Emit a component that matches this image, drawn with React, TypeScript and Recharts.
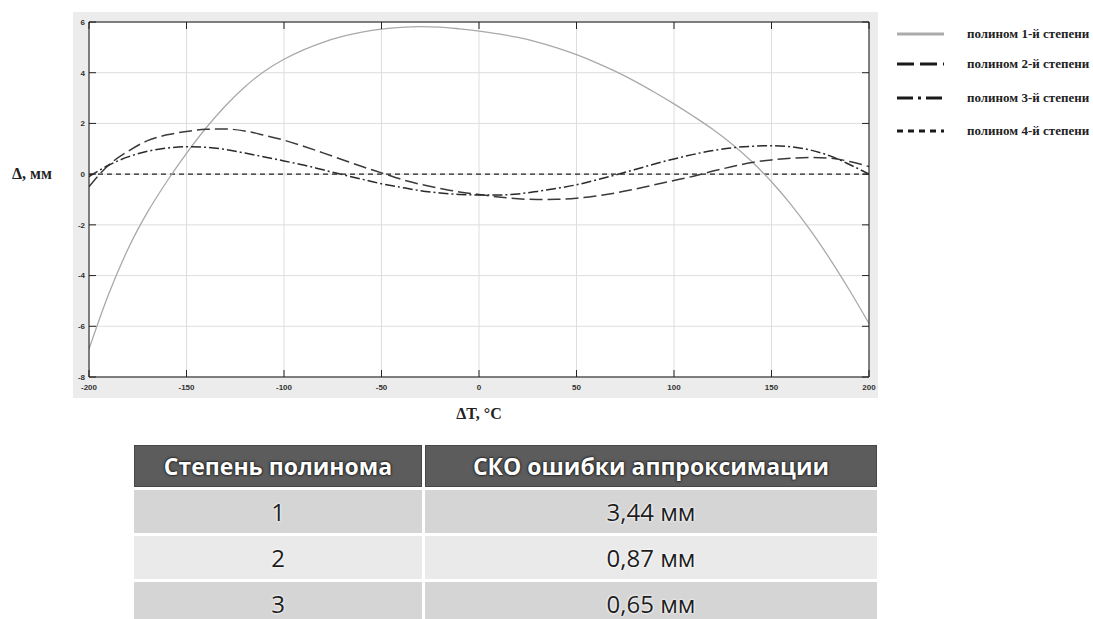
import { LineChart, Line, XAxis, YAxis, CartesianGrid } from 'recharts'

// ΔT, °C
const temps = [
  -200, -190, -180, -170, -160, -150, -140, -130, -120, -110, -100, -90, -80, -70, -60, -50, -40, -30, -20, -10,
  0, 10, 20, 30, 40, 50, 60, 70, 80, 90, 100, 110, 120, 130, 140, 150, 160, 170, 180, 190, 200,
]

// Δ, мм — approximation error for each polynomial degree
const poly1 = [
  -6.9, -4.75, -2.95, -1.5, -0.28, 0.82, 1.82, 2.7, 3.45, 4.06, 4.53, 4.9, 5.2, 5.43, 5.6, 5.72, 5.79, 5.82, 5.8, 5.73,
  5.64, 5.53, 5.39, 5.21, 4.98, 4.71, 4.4, 4.05, 3.66, 3.23, 2.77, 2.28, 1.76, 1.17, 0.49, -0.3, -1.2, -2.22, -3.35, -4.58, -5.89,
]
const poly2 = [
  -0.5, 0.35, 0.9, 1.32, 1.55, 1.68, 1.77, 1.78, 1.7, 1.53, 1.34, 1.1, 0.84, 0.57, 0.3, 0.05, -0.2, -0.4, -0.56, -0.7,
  -0.8, -0.9, -0.97, -1.0, -0.99, -0.95, -0.86, -0.74, -0.59, -0.42, -0.25, -0.08, 0.12, 0.3, 0.46, 0.56, 0.63, 0.66, 0.63, 0.5, 0.3,
]
const poly3 = [
  -0.1, 0.35, 0.68, 0.9, 1.03, 1.08, 1.06, 0.97, 0.83, 0.68, 0.52, 0.36, 0.17, -0.02, -0.2, -0.38, -0.52, -0.65, -0.74, -0.8,
  -0.82, -0.82, -0.78, -0.68, -0.56, -0.42, -0.23, -0.03, 0.18, 0.4, 0.6, 0.78, 0.93, 1.04, 1.1, 1.12, 1.08, 0.95, 0.72, 0.38, 0.0,
]
const poly4 = [
  0, 0, 0, 0, 0, 0, 0, 0, 0, 0, 0, 0, 0, 0, 0, 0, 0, 0, 0, 0,
  0, 0, 0, 0, 0, 0, 0, 0, 0, 0, 0, 0, 0, 0, 0, 0, 0, 0, 0, 0, 0,
]

const xTicks = [-200, -150, -100, -50, 0, 50, 100, 150, 200]
const yTicks = [-8, -6, -4, -2, 0, 2, 4, 6]

const seriesNames = ['полином 1-й степени', 'полином 2-й степени', 'полином 3-й степени', 'полином 4-й степени']

const tableHead = ['Степень полинома', 'СКО ошибки аппроксимации']
const degrees = ['1', '2', '3']
const rmse = ['3,44 мм', '0,87 мм', '0,65 мм']

const rows = temps.map((t, i) => ({ t, p1: poly1[i], p2: poly2[i], p3: poly3[i], p4: poly4[i] }))

// plot box in page pixels
const PLOT = { left: 89, right: 869, top: 22, bottom: 377 }
const TICK = 7

const styles = [
  { stroke: '#a9a9a9', width: 1.3, dash: undefined, legendStroke: '#ababab', legendDash: undefined },
  { stroke: '#3a3a3a', width: 1.5, dash: '13 5', legendStroke: '#1a1a1a', legendDash: '17 6' },
  { stroke: '#2a2a2a', width: 1.5, dash: '10 3 2 3', legendStroke: '#1a1a1a', legendDash: '16 5 3 5' },
  { stroke: '#222', width: 1.2, dash: '5 4', legendStroke: '#1a1a1a', legendDash: '6 5' },
]

const tickText = { fontFamily: 'Liberation Sans', fontSize: 8, fontWeight: 700, fill: '#333' }

const BottomTick = ({ x, y, payload }: any) => (
  <g>
    <line x1={x} x2={x} y1={PLOT.bottom} y2={PLOT.bottom - TICK} stroke="#222" />
    <text x={x} y={y} dy="0.71em" textAnchor="middle" {...tickText}>
      {payload.value}
    </text>
  </g>
)

const TopTick = ({ x }: any) => (
  <line x1={x} x2={x} y1={PLOT.top} y2={PLOT.top + TICK} stroke="#222" />
)

const LeftTick = ({ x, y, payload }: any) => (
  <g>
    <line x1={PLOT.left} x2={PLOT.left + TICK} y1={y} y2={y} stroke="#222" />
    <text x={x} y={y} dy="0.35em" textAnchor="end" {...tickText}>
      {payload.value}
    </text>
  </g>
)

const RightTick = ({ y }: any) => (
  <line x1={PLOT.right} x2={PLOT.right - TICK} y1={y} y2={y} stroke="#222" />
)

const legendRowsY = [34, 64, 98, 131]

function PolyLegend() {
  return (
    <>
      {seriesNames.map((name, i) => (
        <div key={name} style={{ position: 'absolute', left: 897, top: legendRowsY[i] - 8, height: 16, display: 'flex', alignItems: 'center' }}>
          <svg width={47} height={8}>
            <line
              x1={0}
              x2={47}
              y1={4}
              y2={4}
              stroke={styles[i].legendStroke}
              strokeWidth={3}
              strokeDasharray={styles[i].legendDash}
            />
          </svg>
          <span
            style={{
              marginLeft: 23,
              fontFamily: 'Liberation Serif',
              fontSize: 13,
              fontWeight: 700,
              color: '#222',
              whiteSpace: 'nowrap',
            }}
          >
            {name}
          </span>
        </div>
      ))}
    </>
  )
}

function ErrorTable() {
  const cell = {
    display: 'flex',
    alignItems: 'center',
    justifyContent: 'center',
    fontFamily: 'Open Sans',
  } as const
  const head = {
    ...cell,
    background: '#5c5c5c',
    border: '1px solid #474747',
    color: '#fff',
    fontWeight: 700,
    fontSize: 23,
    textShadow: '0 0 2px #000, 0 0 3px #222',
  }
  const body = (i: number) => ({
    ...cell,
    background: i % 2 === 0 ? '#d5d5d5' : '#eaeaea',
    color: '#1e1e1e',
    fontSize: 24,
    textShadow: '0 0 3px #fff, 0 0 2px #fff',
  })
  return (
    <div
      style={{
        position: 'absolute',
        left: 134,
        top: 445,
        width: 743,
        display: 'grid',
        gridTemplateColumns: '288px 452px',
        gridTemplateRows: '42px 43px 43px 43px',
        columnGap: 3,
        rowGap: 3,
      }}
    >
      <div style={head}>{tableHead[0]}</div>
      <div style={head}>{tableHead[1]}</div>
      {degrees.map((d, i) => [
        <div key={`d${i}`} style={body(i)}>{d}</div>,
        <div key={`v${i}`} style={body(i)}>{rmse[i]}</div>,
      ])}
    </div>
  )
}

export default function App() {
  return (
    <div
      style={{
        position: 'absolute',
        left: 0,
        top: 0,
        width: 1093,
        height: 619,
        overflow: 'hidden',
        background: '#fff',
      }}
    >
      <div style={{ position: 'absolute', left: 73, top: 12, width: 805, height: 386, background: '#ececec' }} />

      <LineChart
        width={1093}
        height={400}
        data={rows}
        margin={{ top: 12, right: 214, bottom: 11, left: 79 }}
        style={{ position: 'absolute', left: 0, top: 0 }}
      >
        <CartesianGrid stroke="#dedede" fill="#fff" />
        <XAxis
          dataKey="t"
          type="number"
          domain={[-200, 200]}
          ticks={xTicks}
          interval={0}
          height={12}
          tickSize={0}
          tickMargin={7}
          tickLine={false}
          axisLine={{ stroke: '#111' }}
          tick={<BottomTick />}
          allowDataOverflow
        />
        <XAxis
          xAxisId="top"
          orientation="top"
          dataKey="t"
          type="number"
          domain={[-200, 200]}
          ticks={xTicks}
          interval={0}
          height={10}
          tickSize={0}
          tickLine={false}
          axisLine={{ stroke: '#111' }}
          tick={<TopTick />}
          allowDataOverflow
        />
        <YAxis
          type="number"
          domain={[-8, 6]}
          ticks={yTicks}
          interval={0}
          width={10}
          tickSize={0}
          tickMargin={4}
          tickLine={false}
          axisLine={{ stroke: '#111' }}
          tick={<LeftTick />}
          allowDataOverflow
        />
        <YAxis
          yAxisId="right"
          orientation="right"
          type="number"
          domain={[-8, 6]}
          ticks={yTicks}
          interval={0}
          width={10}
          tickSize={0}
          tickLine={false}
          axisLine={{ stroke: '#111' }}
          tick={<RightTick />}
          allowDataOverflow
        />

        <Line type="monotone" dataKey="p4" name={seriesNames[3]} stroke={styles[3].stroke} strokeWidth={styles[3].width} strokeDasharray={styles[3].dash} dot={false} isAnimationActive={false} />
        <Line type="monotone" dataKey="p1" name={seriesNames[0]} stroke={styles[0].stroke} strokeWidth={styles[0].width} dot={false} isAnimationActive={false} />
        <Line type="monotone" dataKey="p2" name={seriesNames[1]} stroke={styles[1].stroke} strokeWidth={styles[1].width} strokeDasharray={styles[1].dash} dot={false} isAnimationActive={false} />
        <Line type="monotone" dataKey="p3" name={seriesNames[2]} stroke={styles[2].stroke} strokeWidth={styles[2].width} strokeDasharray={styles[2].dash} dot={false} isAnimationActive={false} />
      </LineChart>

      <div
        style={{
          position: 'absolute',
          left: 12,
          top: 165,
          fontFamily: 'Liberation Serif',
          fontSize: 16,
          fontWeight: 700,
          color: '#222',
          whiteSpace: 'nowrap',
        }}
      >
        Δ, мм
      </div>
      <div
        style={{
          position: 'absolute',
          left: 379,
          width: 200,
          top: 405,
          textAlign: 'center',
          fontFamily: 'Liberation Serif',
          fontSize: 16,
          fontWeight: 700,
          color: '#222',
        }}
      >
        ΔT, °C
      </div>

      <PolyLegend />
      <ErrorTable />
    </div>
  )
}
